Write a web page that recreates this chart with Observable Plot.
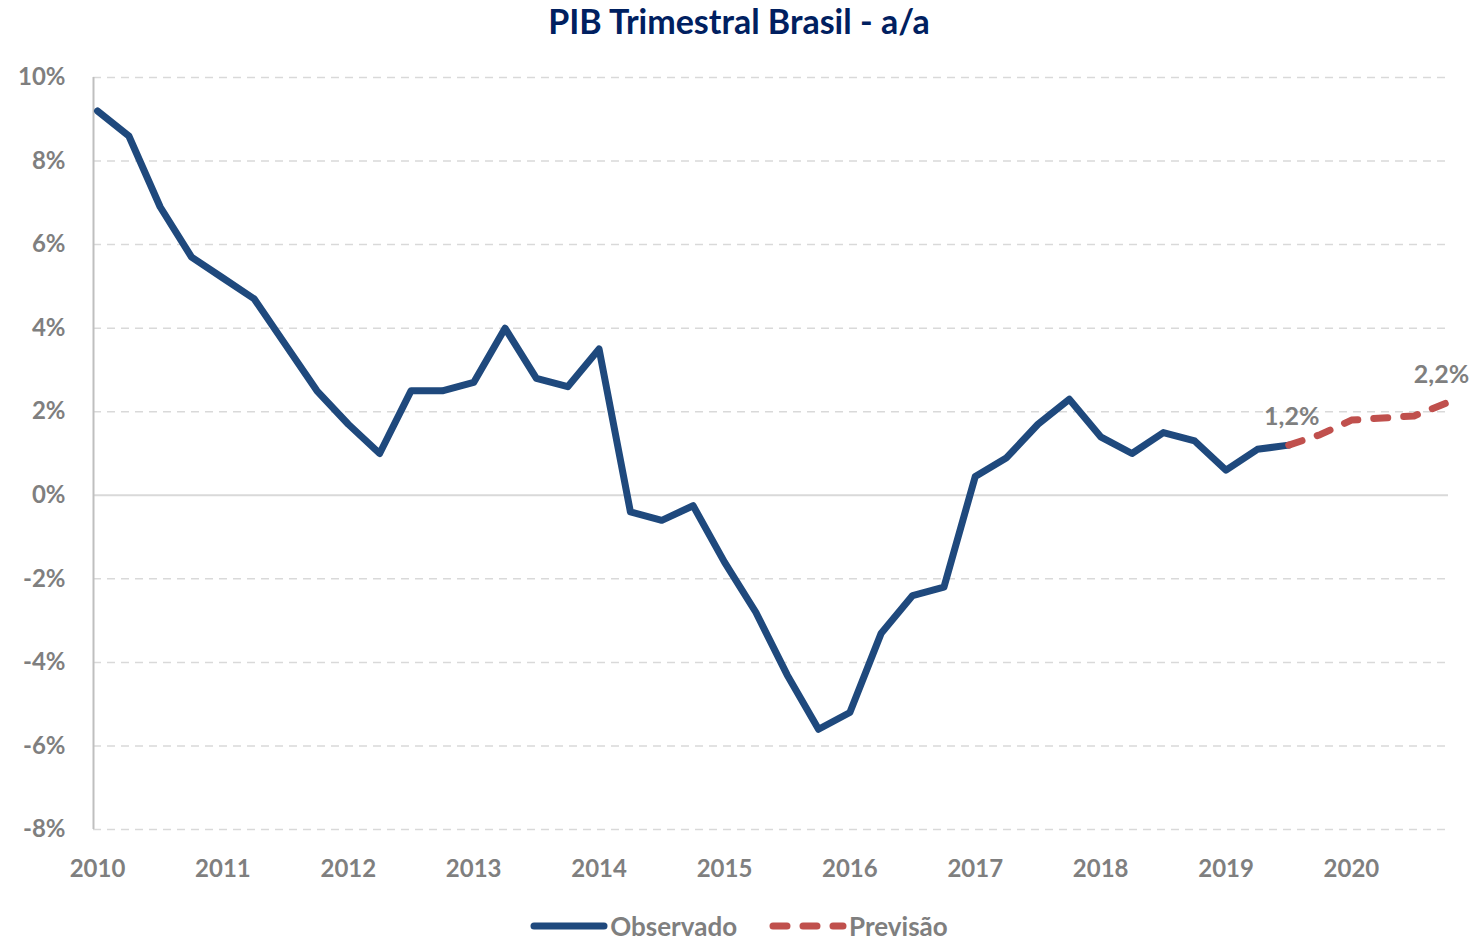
<!DOCTYPE html>
<html>
<head>
<meta charset="utf-8">
<script src="https://cdn.jsdelivr.net/npm/d3@7"></script>
<script src="https://cdn.jsdelivr.net/npm/@observablehq/plot@0.6"></script>
<style>
  html, body { margin: 0; padding: 0; background: #fff; }
  body { width: 1478px; height: 940px; overflow: hidden; font-family: Lato, "Open Sans", sans-serif; }
  #title { height: 45px; line-height: 42px; text-align: center; font-size: 34px; font-weight: bold; color: #002060; }
  #legend { display: flex; justify-content: center; align-items: center; height: 40px; margin-top: 6px; font-size: 26px; font-weight: bold; color: #7f7f7f; }
  #legend .item { display: flex; align-items: center; margin: 0 16px; }
  #legend svg { margin-right: 2px; }
</style>
</head>
<body>
<div id="title">PIB Trimestral Brasil - a/a</div>
<div id="chart"></div>
<div id="legend"></div>
<script>
// Year tick labels
const years = [2010, 2011, 2012, 2013, 2014, 2015, 2016, 2017, 2018, 2019, 2020];
// Y ticks (%)
const yTicks = [-8, -6, -4, -2, 0, 2, 4, 6, 8, 10];
// Observed quarterly GDP growth y/y (%), 2010Q1 .. 2019Q3
const observed = [9.2, 8.6, 6.9, 5.7, 5.2, 4.7, 3.6, 2.5, 1.7, 1.0, 2.5, 2.5, 2.7, 4.0, 2.8, 2.6,
  3.5, -0.4, -0.6, -0.25, -1.6, -2.8, -4.3, -5.6, -5.2, -3.3, -2.4, -2.2, 0.45, 0.9, 1.7, 2.3,
  1.4, 1.0, 1.5, 1.3, 0.6, 1.1, 1.2];
// Forecast 2019Q3 .. 2020Q4 (%)
const forecast = [1.2, 1.45, 1.8, 1.85, 1.9, 2.2];
const forecastStart = 38; // quarter index of first forecast point
// Data labels
const labels = [
  {label: "1,2%", q: 38, value: 1.2},
  {label: "2,2%", q: 43, value: 2.2}
];

const obsData = observed.map((v, i) => ({t: 2010 + i / 4, v}));
const fcData = forecast.map((v, i) => ({t: 2010 + (forecastStart + i) / 4, v}));
const labData = labels.map(d => ({t: 2010 + d.q / 4, v: d.value, label: d.label}));

const grey = "#7f7f7f";
const blue = "#1F497D";
const red = "#C0504D";

const chart = Plot.plot({
  width: 1478,
  height: 855,
  marginTop: 32,
  marginBottom: 71,
  marginLeft: 93,
  marginRight: 30,
  style: {fontFamily: "Lato, 'Open Sans', sans-serif", background: "#fff"},
  x: {domain: [2009.968, 2020.774]},
  y: {domain: [-8, 10]},
  marks: [
    Plot.ruleY(yTicks.filter(d => d !== 0), {stroke: "#d9d9d9", strokeWidth: 1.5, strokeDasharray: "8,6"}),
    Plot.ruleY([0], {stroke: "#d9d9d9", strokeWidth: 2}),
    Plot.ruleX([2009.968], {stroke: "#bfbfbf", strokeWidth: 2}),
    Plot.axisX(years, {tickSize: 0, tickPadding: 30, fontSize: 24, fontWeight: "bold", fill: grey, tickFormat: d => String(d), label: null}),
    Plot.axisY(yTicks, {tickSize: 0, tickPadding: 28, fontSize: 24, fontWeight: "bold", fill: grey, tickFormat: d => `${d}%`, label: null}),
    Plot.line(obsData, {x: "t", y: "v", stroke: blue, strokeWidth: 7, strokeLinejoin: "round", strokeLinecap: "round"}),
    Plot.line(fcData, {x: "t", y: "v", stroke: red, strokeWidth: 7, strokeLinecap: "round", strokeDasharray: "14,16"}),
    Plot.text(labData.slice(0, 1), {x: "t", y: "v", text: "label", dy: -28, dx: 3, fontSize: 25, fontWeight: "bold", fill: grey}),
    Plot.text(labData.slice(1), {x: "t", y: "v", text: "label", dy: -28, dx: -4, fontSize: 25, fontWeight: "bold", fill: grey})
  ]
});
document.getElementById("chart").appendChild(chart);

const legendItems = [
  {name: "Observado", color: blue, dash: null},
  {name: "Previsão", color: red, dash: "14,16"}
];
const legend = document.getElementById("legend");
for (const it of legendItems) {
  const item = document.createElement("div");
  item.className = "item";
  item.innerHTML = `<svg width="78" height="12"><line x1="4" y1="6" x2="74" y2="6" stroke="${it.color}" stroke-width="7" stroke-linecap="round" ${it.dash ? `stroke-dasharray="${it.dash}"` : ""}/></svg><span>${it.name}</span>`;
  legend.appendChild(item);
}
</script>
</body>
</html>
